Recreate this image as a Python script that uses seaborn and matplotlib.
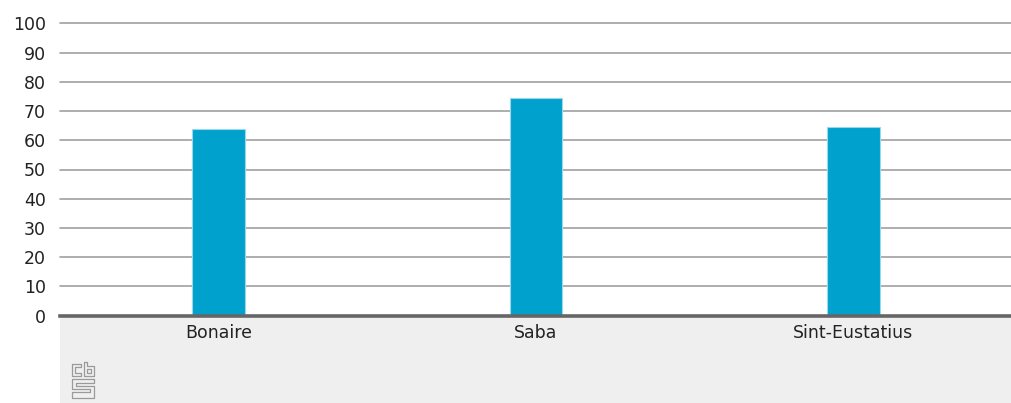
import matplotlib
matplotlib.use("Agg")
import matplotlib.pyplot as plt
from matplotlib.patches import Rectangle
from matplotlib.lines import Line2D
import seaborn as sns
import pandas as pd

# data
islands = ['Bonaire', 'Saba', 'Sint-Eustatius']
values = [63.7, 74.3, 64.6]
yticks = [0, 10, 20, 30, 40, 50, 60, 70, 80, 90, 100]

df = pd.DataFrame({'island': islands, 'value': values})

sns.set_style('white')
plt.rcParams['font.family'] = ['DejaVu Sans']

W, H = 1012, 403
fig = plt.figure(figsize=(W / 100, H / 100), dpi=100)
ax = fig.add_axes([60 / W, 1 - 315.7 / H, (W - 60) / W, (315.7 - 23.3) / H])

# grey footer band under the plot
fig.add_artist(Rectangle((60 / W, 0), (W - 60) / W, 1 - 315.7 / H,
                         transform=fig.transFigure, facecolor='#efefef',
                         edgecolor='none', zorder=0))

sns.barplot(data=df, x='island', y='value', color='#00a1cd', saturation=1,
            width=0.167, edgecolor='#9ad8ea', linewidth=0.8, ax=ax, zorder=3)

ax.set_ylim(0, 100)
ax.set_xlim(-0.5, 2.5)
ax.set_yticks(yticks)
ax.yaxis.grid(True, color='#a0a0a0', linewidth=1.2)
for gl in ax.get_ygridlines():
    gl.set_clip_on(False)
ax.set_axisbelow(True)
for s in ['top', 'right', 'left']:
    ax.spines[s].set_visible(False)
ax.spines['bottom'].set_color('#666666')
ax.spines['bottom'].set_linewidth(2.6)
ax.spines['bottom'].set_zorder(5)
ax.tick_params(axis='both', length=0, labelsize=12.5, colors='#222222')
ax.tick_params(axis='y', pad=10)
ax.tick_params(axis='x', pad=6)
ax.set_xlabel('')
ax.set_ylabel('')
ax.patch.set_alpha(0)

# small cbs logo in the footer (drawn with outline strokes)
def px(x, y):
    return x / W, 1 - y / H

logo = '#9a9a9a'
paths = [
    # c
    [(72, 364), (81, 364), (81, 367), (75, 367), (75, 373), (81, 373), (81, 376), (72, 376), (72, 364)],
    # b
    [(84, 362), (87, 362), (87, 366), (94, 366), (94, 376), (84, 376), (84, 362)],
    [(87, 369), (91, 369), (91, 373), (87, 373), (87, 369)],
    # s
    [(94, 379), (72, 379), (72, 389), (90, 389), (90, 392), (72, 392), (72, 398),
     (94, 398), (94, 386), (76, 386), (76, 383), (94, 383), (94, 379)],
]
for p in paths:
    xs, ys = zip(*[px(a, b) for a, b in p])
    fig.add_artist(Line2D(xs, ys, color=logo, linewidth=0.9,
                          transform=fig.transFigure))

fig.savefig('out.png', dpi=100)
